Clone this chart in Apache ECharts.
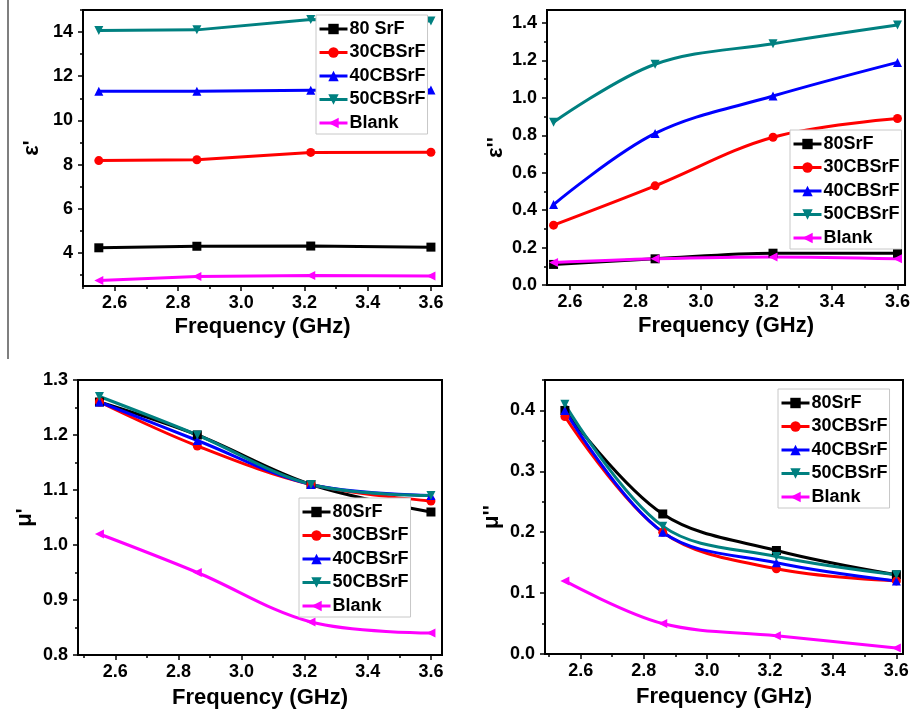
<!DOCTYPE html>
<html>
<head>
<meta charset="utf-8">
<script src="https://cdn.jsdelivr.net/npm/echarts@6/dist/echarts.min.js"></script>
<style>
  html, body { margin: 0; padding: 0; background: #fff; }
  #main { width: 913px; height: 714px; }
</style>
</head>
<body>
<div id="main"></div>
<script>
// frequency points (GHz)
const freq = [2.55, 2.86, 3.22, 3.6];

// legend names, one list per panel (panel 1 has a space in "80 SrF")
const namesEpsRe = ['80 SrF', '30CBSrF', '40CBSrF', '50CBSrF', 'Blank'];
const namesOther = ['80SrF', '30CBSrF', '40CBSrF', '50CBSrF', 'Blank'];

// ε'  (rows: 80SrF, 30CBSrF, 40CBSrF, 50CBSrF, Blank)
const epsReVals = [
    [4.23, 4.30, 4.31, 4.26],
    [8.18, 8.22, 8.55, 8.56],
    [11.32, 11.32, 11.36, 11.38],
    [14.07, 14.10, 14.57, 14.50],
    [2.75, 2.93, 2.98, 2.95]
];
// ε''
const epsImVals = [
    [0.11, 0.14, 0.17, 0.17],
    [0.32, 0.53, 0.79, 0.89],
    [0.43, 0.81, 1.01, 1.19],
    [0.87, 1.18, 1.29, 1.39],
    [0.12, 0.14, 0.15, 0.14]
];
// μ'
const muReVals = [
    [1.26, 1.20, 1.11, 1.06],
    [1.26, 1.18, 1.11, 1.08],
    [1.26, 1.19, 1.11, 1.09],
    [1.27, 1.20, 1.11, 1.09],
    [1.02, 0.95, 0.86, 0.84]
];
// μ''
const muImVals = [
    [0.40, 0.23, 0.17, 0.13],
    [0.39, 0.20, 0.14, 0.12],
    [0.40, 0.20, 0.15, 0.12],
    [0.41, 0.21, 0.16, 0.13],
    [0.12, 0.05, 0.03, 0.01]
];

// tick labels
const freqTicks = [2.6, 2.8, 3.0, 3.2, 3.4, 3.6];
const epsReTicks = [4, 6, 8, 10, 12, 14];
const epsImTicks = [0.0, 0.2, 0.4, 0.6, 0.8, 1.0, 1.2, 1.4];
const muReTicks = [0.8, 0.9, 1.0, 1.1, 1.2, 1.3];
const muImTicks = [0.0, 0.1, 0.2, 0.3, 0.4];

const FONT = '"Liberation Sans", Arial, sans-serif';
const colors = ['#000000', '#ff0000', '#0000ff', '#008080', '#ff00ff'];
const symbols = ['rect', 'circle', 'triangle', 'triangle', 'triangle'];
const rotates = [0, 0, 0, 180, 90];

// minor ticks half way between the labelled ones
function minorOf(ticks, min, max) {
    const step = ticks[1] - ticks[0];
    const out = [];
    for (let i = -1; i < ticks.length; i++) {
        const t = (i < 0 ? ticks[0] - step : ticks[i]) + step / 2;
        if (t >= min - 1e-9 && t <= max + 1e-9) out.push(+t.toFixed(4));
    }
    return out;
}

const panels = [
    {grid: {left: 83, top: 10, width: 359, height: 276}, xMin: 2.5, xMax: 3.635,
     yMin: 2.5, yMax: 15, yTicks: epsReTicks, dec: 0, yName: "ε'", smooth: false,
     vals: epsReVals, names: namesEpsRe, legend: {left: 316, top: 15}, xGap: 30, yGap: 40},
    {grid: {left: 547, top: 10, width: 360, height: 275}, xMin: 2.53, xMax: 3.623,
     yMin: 0, yMax: 1.47, yTicks: epsImTicks, dec: 1, yName: "ε''", smooth: 0.35,
     vals: epsImVals, names: namesOther, legend: {left: 790, top: 130}, xGap: 30, yGap: 40},
    {grid: {left: 78, top: 380, width: 364, height: 275}, xMin: 2.482, xMax: 3.635,
     yMin: 0.8, yMax: 1.3, yTicks: muReTicks, dec: 1, yName: "μ'", smooth: 0.35,
     vals: muReVals, names: namesOther, legend: {left: 299, top: 498}, xGap: 32, yGap: 42},
    {grid: {left: 545, top: 380, width: 358, height: 274}, xMin: 2.487, xMax: 3.621,
     yMin: 0, yMax: 0.45, yTicks: muImTicks, dec: 1, yName: "μ''", smooth: 0.35,
     vals: muImVals, names: namesOther, legend: {left: 778, top: 389}, xGap: 32, yGap: 42}
];

const labelStyle = {fontFamily: FONT, fontWeight: 'bold', fontSize: 18, color: '#000'};
const nameStyle = {fontFamily: FONT, fontWeight: 'bold', fontSize: 22, color: '#000'};

const grid = [], xAxis = [], yAxis = [], series = [], legend = [];

panels.forEach((p, k) => {
    grid.push(Object.assign({show: true, borderColor: '#000', borderWidth: 2,
        backgroundColor: 'transparent'}, p.grid));

    // main x axis + minor tick axis
    xAxis.push({
        type: 'value', gridIndex: k, min: p.xMin, max: p.xMax, position: 'bottom',
        name: 'Frequency (GHz)', nameLocation: 'middle', nameGap: p.xGap, nameTextStyle: nameStyle,
        axisLine: {onZero: false, lineStyle: {color: '#000', width: 2}},
        axisTick: {inside: false, length: 5, lineStyle: {color: '#000', width: 1.5}, customValues: freqTicks},
        axisLabel: Object.assign({margin: 8, customValues: freqTicks, formatter: v => v.toFixed(1)}, labelStyle),
        splitLine: {show: false}
    });
    xAxis.push({
        type: 'value', gridIndex: k, min: p.xMin, max: p.xMax, position: 'bottom',
        axisLine: {show: false, onZero: false},
        axisTick: {inside: false, length: 3, lineStyle: {color: '#000', width: 1.5},
            customValues: minorOf(freqTicks, p.xMin, p.xMax)},
        axisLabel: {show: false}, splitLine: {show: false}
    });
    yAxis.push({
        type: 'value', gridIndex: k, min: p.yMin, max: p.yMax, position: 'left',
        name: p.yName, nameLocation: 'middle', nameRotate: 90, nameGap: p.yGap, nameTextStyle: nameStyle,
        axisLine: {onZero: false, lineStyle: {color: '#000', width: 2}},
        axisTick: {inside: false, length: 5, lineStyle: {color: '#000', width: 1.5}, customValues: p.yTicks},
        axisLabel: Object.assign({margin: 10, customValues: p.yTicks, formatter: v => v.toFixed(p.dec)}, labelStyle),
        splitLine: {show: false}
    });
    yAxis.push({
        type: 'value', gridIndex: k, min: p.yMin, max: p.yMax, position: 'left',
        axisLine: {show: false, onZero: false},
        axisTick: {inside: false, length: 3, lineStyle: {color: '#000', width: 1.5},
            customValues: minorOf(p.yTicks, p.yMin, p.yMax)},
        axisLabel: {show: false}, splitLine: {show: false}
    });

    p.vals.forEach((row, i) => {
        series.push({
            name: p.names[i], type: 'line', xAxisIndex: 2 * k, yAxisIndex: 2 * k,
            data: row.map((v, j) => [freq[j], v]),
            smooth: p.smooth, symbol: symbols[i], symbolRotate: rotates[i], symbolSize: 9,
            showAllSymbol: true,
            lineStyle: {color: colors[i], width: 3},
            itemStyle: {color: colors[i]},
            emphasis: {disabled: true}
        });
    });

    legend.push(Object.assign({
        orient: 'vertical', data: p.names, selectedMode: false,
        backgroundColor: '#fff', borderColor: '#c8c8c8', borderWidth: 1, borderRadius: 0,
        padding: [5, 2, 2, 2], itemGap: 5.5, itemWidth: 28, itemHeight: 13,
        lineStyle: {width: 3},
        textStyle: Object.assign({lineHeight: 18, padding: [0, 0, 0, -3]}, labelStyle)
    }, p.legend));
});

const chart = echarts.init(document.getElementById('main'), null, {renderer: 'canvas'});
chart.setOption({
    animation: false,
    backgroundColor: '#fff',
    grid, xAxis, yAxis, series, legend,
    graphic: [{
        type: 'line', shape: {x1: 8, y1: 0, x2: 8, y2: 359},
        style: {stroke: '#555', lineWidth: 1.5}, silent: true
    }]
});
</script>
</body>
</html>
